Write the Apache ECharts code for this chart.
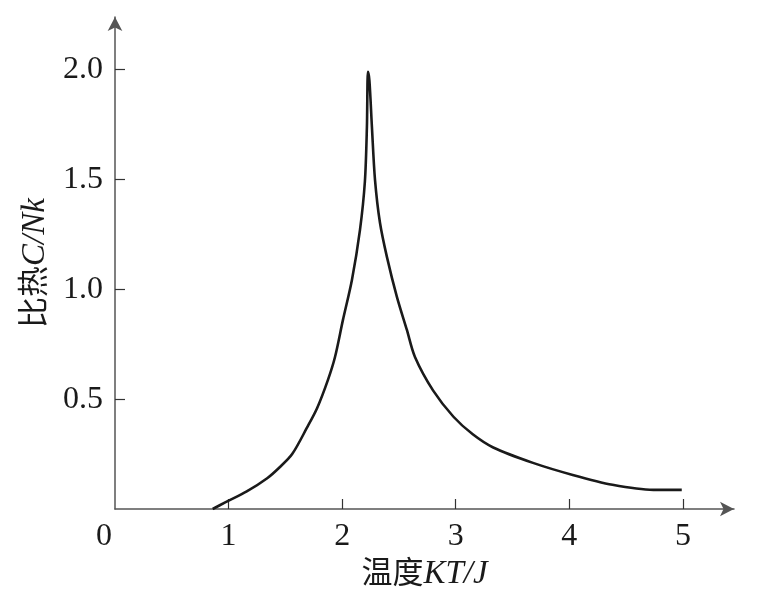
<!DOCTYPE html>
<html><head><meta charset="utf-8">
<script src="https://cdn.jsdelivr.net/npm/echarts@6/dist/echarts.min.js"></script>
<style>html,body{margin:0;padding:0;background:#fff}#c{width:769px;height:599px}</style>
</head><body><div id="c"></div>
<script>
var temps = [0.86,0.97,1.16,1.34,1.45,1.56,1.69,1.78,1.875,1.937,2.007,2.086,2.157,2.20,2.218,2.227,2.24,2.262,2.289,2.333,2.394,2.482,2.570,2.641,2.80,2.98,3.15,3.33,3.68,4.03,4.38,4.74,4.99];
var heat  = [0.0,0.03,0.08,0.14,0.19,0.25,0.37,0.46,0.588,0.692,0.861,1.043,1.271,1.49,1.74,1.99,1.95,1.74,1.50,1.303,1.148,0.966,0.815,0.692,0.54,0.42,0.34,0.28,0.21,0.155,0.11,0.087,0.087];
var xTicks = [0,1,2,3,4,5];
var yTicks = [0.5,1.0,1.5,2.0];
var xName = '温度{i|KT/J}';
var yName = '比热{i|C/Nk}';

var serif = '"Liberation Serif","Noto Sans CJK SC",serif';
var chart = echarts.init(document.getElementById('c'));
var pts = temps.map(function(t,i){return [t, heat[i]];});
chart.setOption({
  animation:false,
  grid:{left:115,right:35,top:17,bottom:90},
  xAxis:{
    type:'value',min:0,max:5.45,
    splitLine:{show:false},
    axisLine:{onZero:false,lineStyle:{color:'#555',width:1.5},symbol:['none','arrow'],symbolSize:[11,14]},
    axisTick:{inside:true,length:10,lineStyle:{color:'#333',width:1.2},customValues:[1,2,3,4,5]},
    axisLabel:{customValues:xTicks,margin:12,color:'#1a1a1a',fontFamily:serif,fontSize:32,
      formatter:function(v){return v===0?'{z|0}':String(v);},
      rich:{z:{fontFamily:serif,fontSize:32,color:'#1a1a1a',padding:[0,22,0,0]}}},
    name:xName,nameLocation:'middle',nameGap:41,
    nameTextStyle:{fontFamily:serif,fontSize:31,color:'#1a1a1a',
      rich:{i:{fontFamily:'"Liberation Serif",serif',fontStyle:'italic',fontSize:33,color:'#1a1a1a'}}}
  },
  yAxis:{
    type:'value',min:0,max:2.24,
    splitLine:{show:false},
    axisLine:{onZero:false,lineStyle:{color:'#555',width:1.5},symbol:['none','arrow'],symbolSize:[11,14]},
    axisTick:{inside:true,length:10,lineStyle:{color:'#333',width:1.2},customValues:yTicks},
    axisLabel:{customValues:yTicks,margin:12,color:'#1a1a1a',fontFamily:serif,fontSize:32,
      formatter:function(v){return v.toFixed(1);}},
    name:yName,nameLocation:'middle',nameGap:63,nameRotate:90,
    nameTextStyle:{fontFamily:serif,fontSize:31,color:'#1a1a1a',
      rich:{i:{fontFamily:'"Liberation Serif",serif',fontStyle:'italic',fontSize:33,color:'#1a1a1a'}}}
  },
  series:[{type:'line',data:pts,showSymbol:false,smooth:0.3,
    lineStyle:{color:'#1a1a1a',width:2.6}}]
});
</script></body></html>
